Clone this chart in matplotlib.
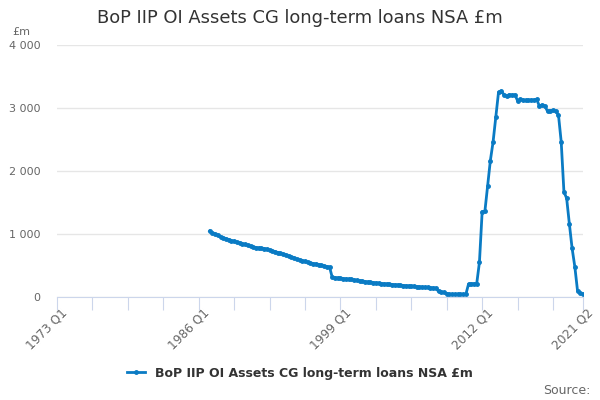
import matplotlib
matplotlib.use('Agg')
import matplotlib.pyplot as plt
from matplotlib.ticker import FuncFormatter
from matplotlib.transforms import ScaledTranslation

# quarters counted from 1973 Q1 (= 0); series starts 1987 Q1
start_q = 56
values = [
    1048, 1020, 1000, 980, 955, 940, 925, 910, 895, 885,
    870, 860, 848, 835, 820, 805, 790, 785, 778, 772,
    768, 760, 745, 732, 718, 705, 693, 680, 665, 650,
    635, 620, 600, 588, 578, 565, 552, 540, 530, 525,
    515, 502, 492, 484, 476,
    310, 305, 302, 297, 292, 287, 282, 278, 270, 263,
    256, 248, 243, 238, 233, 228, 222, 218, 214, 210,
    206, 202, 198, 193, 189, 185, 181, 177, 173, 170,
    167, 164, 161, 158, 155, 151, 148, 145, 140,
    88, 82, 72, 55, 40, 40, 40, 40, 40, 40, 40,
    205, 210, 210, 212,
    551, 1354, 1360, 1762, 2164, 2460, 2862, 3249, 3270, 3212,
    3190, 3212, 3205, 3210, 3116, 3138, 3125, 3120, 3125, 3125,
    3128, 3135, 3032, 3048, 3032, 2947, 2957, 2962, 2950, 2889,
    2465, 1671, 1567, 1159, 773, 481, 95, 58, 48,
]
quarters = list(range(start_q, start_q + len(values)))

tick_pos = list(range(0, 193, 13)) + [193]
label_map = {0: '1973 Q1', 52: '1986 Q1', 104: '1999 Q1', 156: '2012 Q1', 193: '2021 Q2'}
tick_labels = [label_map.get(t, '') for t in tick_pos]

series_name = 'BoP IIP OI Assets CG long-term loans NSA £m'
blue = '#0a7bc4'
grey = '#666666'

fig = plt.figure(figsize=(6, 4), dpi=100)
ax = fig.add_axes([57 / 600, 1 - 297 / 400, 526 / 600, 252 / 400])

ax.plot(quarters, values, color=blue, lw=2, marker='o', ms=2.5, label=series_name)

ax.set_xlim(0, 193)
ax.set_ylim(0, 4000)
ax.set_yticks([0, 1000, 2000, 3000, 4000])
ax.yaxis.set_major_formatter(FuncFormatter(lambda v, p: f'{int(v):,}'.replace(',', ' ')))
ax.grid(axis='y', color='#e6e6e6', lw=1)
ax.set_axisbelow(True)

ax.set_xticks(tick_pos)
ax.set_xticklabels(tick_labels, rotation=45, ha='right', va='top', rotation_mode='anchor')
ax.tick_params(axis='x', length=9, color='#ccd6eb', labelsize=8.7, labelcolor=grey, pad=0)
ax.tick_params(axis='y', length=0, labelsize=8, labelcolor=grey, pad=12)
shift = ScaledTranslation(4 / 100, 3 / 100, fig.dpi_scale_trans)
for lbl in ax.get_xticklabels():
    lbl.set_transform(lbl.get_transform() + shift)

for s in ['top', 'right', 'left']:
    ax.spines[s].set_visible(False)
ax.spines['bottom'].set_color('#ccd6eb')

fig.text(0.5, 1 - 18 / 400, series_name, ha='center', va='center', fontsize=12.9, color='#333333')
fig.text(12 / 600, 1 - 32 / 400, '£m', ha='left', va='center', fontsize=8, color=grey)
fig.text(590 / 600, 1 - 390 / 400, 'Source:', ha='right', va='center', fontsize=9, color=grey)

leg = fig.legend(loc='center', bbox_to_anchor=(0.5, 1 - 373 / 400), frameon=False,
                 handlelength=1.4, prop={'weight': 'bold', 'size': 9})
for t in leg.get_texts():
    t.set_color('#333333')

fig.savefig('out.png', dpi=100)
